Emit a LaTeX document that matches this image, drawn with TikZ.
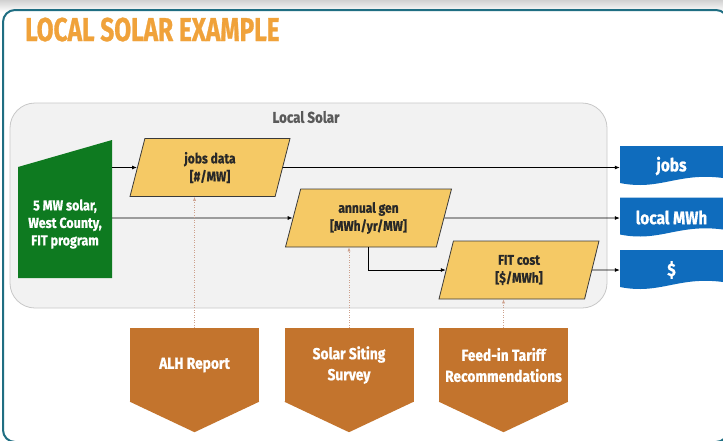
\documentclass[tikz,border=0pt]{standalone}
\usepackage{fontspec}
\setmainfont{Fira Sans}[FakeStretch=0.86,BoldFeatures={FakeBold=0.8}]
\newfontfamily\titlefont{Fira Sans}[FakeStretch=0.74,BoldFeatures={FakeBold=0.8}]
\usetikzlibrary{shapes.geometric,arrows.meta,calc}
\definecolor{titleorange}{RGB}{240,162,58}
\definecolor{frameteal}{RGB}{31,110,130}
\definecolor{panelgray}{RGB}{242,242,242}
\definecolor{paneledge}{RGB}{200,200,200}
\definecolor{labelgray}{RGB}{90,90,90}
\definecolor{srcgreen}{RGB}{14,122,32}
\definecolor{datagold}{RGB}{245,201,101}
\definecolor{boxedge}{RGB}{58,58,58}
\definecolor{textdark}{RGB}{40,40,40}
\definecolor{outblue}{RGB}{15,108,189}
\definecolor{reportorange}{RGB}{195,116,45}
\definecolor{dotbrown}{RGB}{205,160,140}
\tikzset{
	flow/.style={draw=black,line width=0.8pt,-{Latex[length=5pt,width=4pt]}},
	feed/.style={draw=dotbrown,line width=0.5pt,dotted,-{Latex[length=4pt,width=3pt]}},
	databox/.style={trapezium,trapezium left angle=67,trapezium right angle=113,trapezium stretches body,
		draw=boxedge,line width=0.8pt,fill=datagold,minimum width=160pt,minimum height=58pt,
		text=textdark,align=center,inner sep=2pt,font=\bfseries\fontsize{14}{18}\selectfont},
	outbox/.style={minimum width=103pt,minimum height=40pt,inner sep=0pt,text=white,
		font=\bfseries\fontsize{18}{20}\selectfont,
		path picture={\fill[outblue] (path picture bounding box.north west) -- (path picture bounding box.north east)
			-- ([yshift=8pt]path picture bounding box.south east)
			.. controls ([xshift=-45pt,yshift=14pt]path picture bounding box.south east)
			and ([xshift=40pt,yshift=-5pt]path picture bounding box.south west)
			.. ([yshift=3pt]path picture bounding box.south west) -- cycle;}},
	reportbox/.style={fill=reportorange,minimum width=129pt,minimum height=74pt,inner sep=0pt,
		text=white,align=center,font=\bfseries\fontsize{16}{21}\selectfont},
}
\begin{document}
\begin{tikzpicture}[x=1pt,y=-1pt]
	\useasboundingbox(0,0)rectangle(723,440);
	\shade[top color=black!18,bottom color=white](0,0)rectangle(723,12);
	\draw[frameteal,line width=2pt,fill=white,rounded corners=12pt](3,10)rectangle(728,442);
	\node[anchor=base west,text=titleorange,font=\titlefont\bfseries\fontsize{33}{36}\selectfont,inner sep=0pt](title)at(25,41){LOCAL SOLAR EXAMPLE};
	% local solar panel
	\node[draw=paneledge,fill=panelgray,line width=0.8pt,rounded corners=25pt,minimum width=597pt,minimum height=205pt](panel)at(308.5,205.5){};
	\node[text=labelgray,font=\bfseries\fontsize{15.5}{17}\selectfont](panellabel)at(306,117){Local Solar};
	% source
	\node[minimum width=94pt,minimum height=138pt,inner sep=0pt,
		path picture={\fill[srcgreen](path picture bounding box.south west)--(path picture bounding box.south east)
			--(path picture bounding box.north east)--([yshift=-27pt]path picture bounding box.north west)--cycle;}](src)at(65,209){};
	\node[text=white,align=center,font=\bfseries\fontsize{14.5}{17.5}\selectfont](srctext)at(65,224){5 MW solar,\\West County,\\FIT program};
	% data steps
	\node[databox](jobsdata)at(210,167.5){jobs data\\{[}\#/MW{]}};
	\node[databox,minimum width=166pt](annualgen)at(368.5,218){annual gen\\{[}MWh/yr/MW{]}};
	\node[databox](fitcost)at(519,270){FIT cost\\{[}\$/MWh{]}};
	% outputs
	\node[outbox](jobs)at(671.5,166){jobs};
	\node[outbox](localmwh)at(671.5,217.5){local MWh};
	\node[outbox](dollar)at(671.5,270){\$};
	% reports
	\node[reportbox](alh)at(194.5,365){ALH Report};
	\node[reportbox](siting)at(349,365){Solar Siting\\Survey};
	\node[reportbox](tariff)at(503.5,365){Feed-in Tariff\\Recommendations};
	\foreach \r in {alh,siting,tariff}
		\fill[reportorange]([yshift=0.5pt]\r.south west)--([yshift=0.5pt]\r.south east)--([yshift=-30pt]\r.south)--cycle;
	% connectors
	\draw[flow](src.east|-jobsdata.center)--(jobsdata);
	\draw[flow](src.east|-annualgen.center)--(annualgen);
	\draw[flow](jobsdata)--(jobsdata-|jobs.west);
	\draw[flow](annualgen)--(annualgen-|localmwh.west);
	\draw[flow](annualgen.south)|-(fitcost);
	\draw[flow](fitcost)--(fitcost-|dollar.west);
	\draw[feed](alh.north)--(alh.north|-jobsdata.south);
	\draw[feed](siting.north)--(siting.north|-annualgen.south);
	\draw[feed](tariff.north)--(tariff.north|-fitcost.south);
\end{tikzpicture}
\end{document}
